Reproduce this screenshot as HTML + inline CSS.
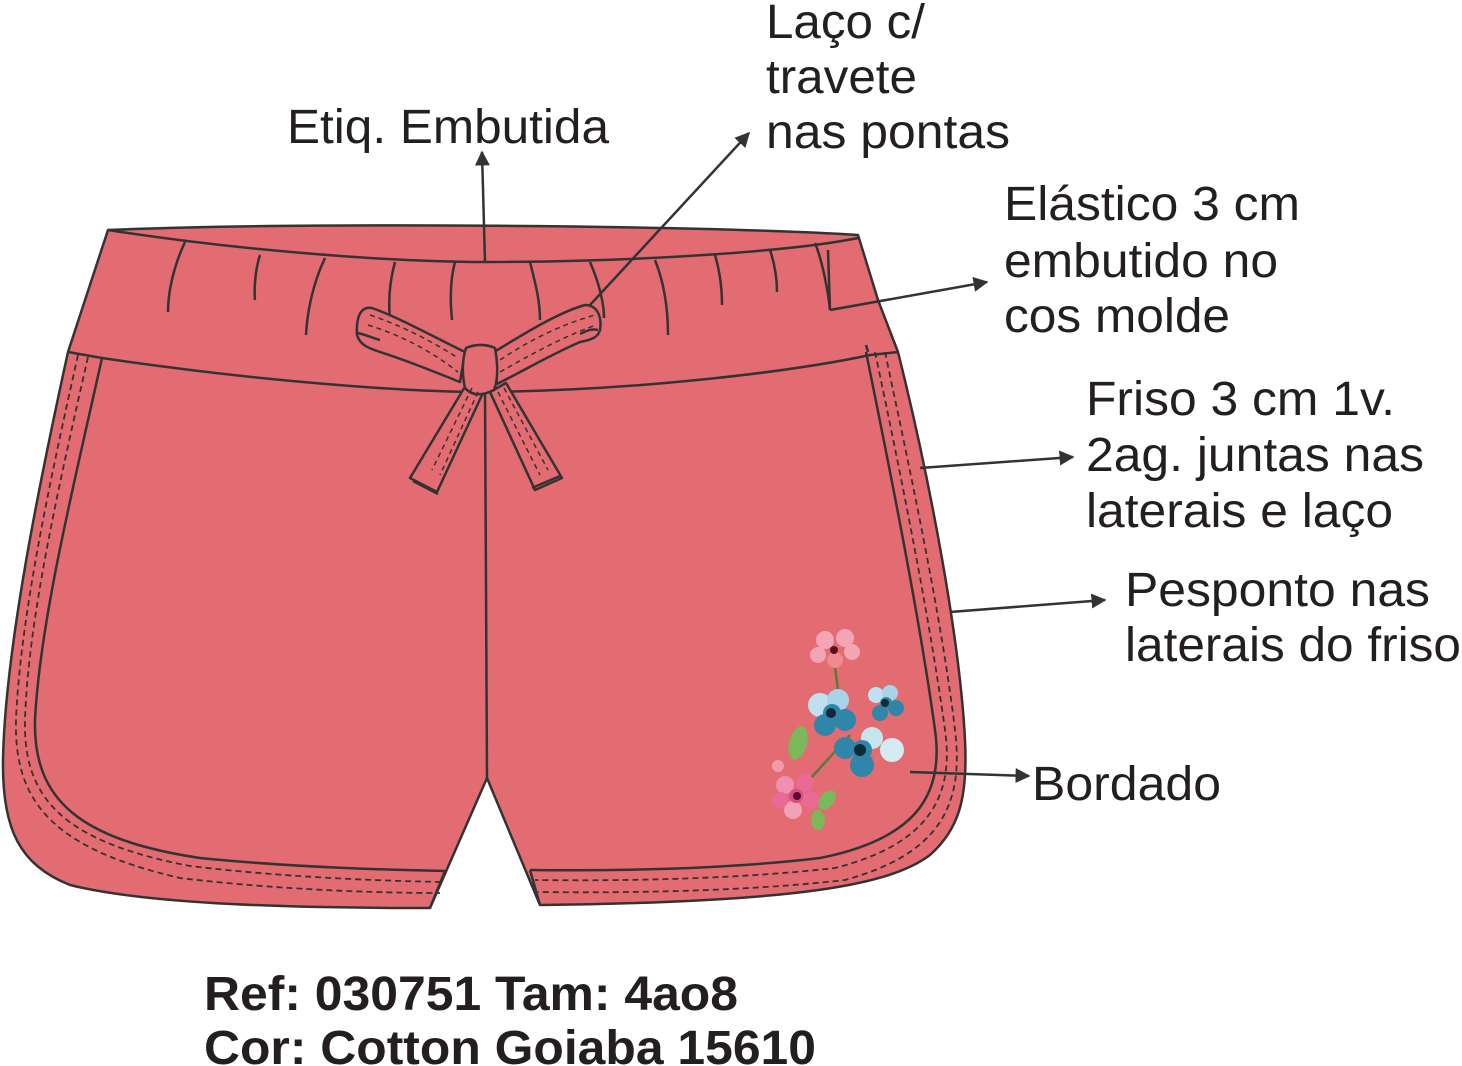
<!DOCTYPE html>
<html><head><meta charset="utf-8"><style>
html,body{margin:0;padding:0;background:#fff;}
svg{display:block}
text{font-family:"Liberation Sans",sans-serif;fill:#231f20;}
</style></head><body>
<svg width="1462" height="1066" viewBox="0 0 1462 1066" xmlns="http://www.w3.org/2000/svg">
<defs><marker id="a" viewBox="0 0 10 10" refX="9" refY="5" markerWidth="6" markerHeight="6" orient="auto"><path d="M0,0L10,5L0,10z" fill="#333"/></marker></defs>
<g stroke="#333" stroke-width="2.5" fill="none" stroke-linejoin="round">
<path fill="#e36c72" d="M108,230 C300,222 700,225 858,235 L878,300 L898,352 C930,480 960,640 965,740 C968,800 958,830 930,855 C890,885 800,902 540,905 L487,778 L430,908 C300,908 150,905 70,885 C20,865 2,830 3,760 C5,650 40,480 68,352 Z"/>
<path d="M108,230 C250,252 400,262 485,262 C650,262 800,250 858,238"/>
<path d="M68,352 L102,358 C250,380 400,392 485,392 C650,390 800,370 870,355 L898,352"/>
<path d="M485,392 L487,778"/>
<path d="M102,358 C75,480 40,620 35,720 C33,800 80,840 200,858 C300,868 400,870 445,871"/>
<path d="M866,352 C890,470 920,620 935,730 C945,800 910,840 820,858 C720,870 600,871 530,870"/>
<path d="M445,871 L430,908 M530,870 L540,905"/>
<path d="M830,310 L828,250 M866,345 L868,352"/>
<path d="M185,242 C172,270 168,295 168,312 M260,255 C255,270 254,290 255,300 M325,258 C312,285 307,315 306,335 M395,262 C390,280 388,300 390,320 M455,262 C450,280 450,300 452,320 M530,262 C535,282 540,300 540,320 M590,262 C600,285 604,305 604,318 M655,260 C665,285 668,310 668,335 M715,255 C720,272 722,290 722,305 M770,250 C775,265 777,280 777,292 M815,243 C822,260 828,290 830,310"/>
</g>
<g stroke="#333" stroke-width="1.8" fill="none" stroke-dasharray="6,4">
<path d="M78,355 C50,480 20,620 16,720 C14,800 50,848 180,878 C280,890 380,893 440,893"/>
<path d="M88,357 C60,480 28,620 25,720 C23,800 65,842 190,866 C290,878 390,881 442,882"/>
<path d="M875,352 C900,470 930,620 945,730 C955,800 925,845 835,868 C730,880 610,881 535,880"/>
<path d="M885,352 C910,470 942,620 955,730 C965,810 935,855 845,880 C740,892 620,893 538,892"/>
</g>
<g stroke="#333" stroke-width="2.5" fill="#e36c72" stroke-linejoin="round">
<path d="M465,352 C430,335 400,318 372,308 C360,306 356,318 357,335 C360,345 368,348 380,352 C405,360 430,370 460,382 Z"/>
<path d="M494,352 C530,330 560,312 585,305 C598,305 602,318 600,330 C598,338 590,340 580,342 C550,355 525,370 497,384 Z"/>
<path d="M466,385 L410,478 L437,492 L482,395 Z"/>
<path d="M490,392 L535,490 L562,478 L506,383 Z"/>
<path d="M466,348 C478,343 488,345 495,348 C498,365 498,380 494,390 C482,396 472,396 465,388 C462,375 462,360 466,348 Z"/>
<path d="M358,333 C370,336 372,338 380,340 M598,330 C590,328 585,332 580,334" fill="none"/>
<path d="M413,481 L438,494 M532,488 L560,476" fill="none"/>
</g>
<g stroke="#333" stroke-width="1.5" fill="none" stroke-dasharray="5,4">
<path d="M370,315 C400,325 430,340 458,358 M368,325 C400,335 430,350 458,372 M500,360 C530,340 560,325 595,315 M500,372 C530,355 560,338 596,325 M472,388 L432,470 M478,392 L440,475 M498,392 L540,475 M504,388 L548,470"/>
</g>
<g>
<path d="M834,660 L838,690 M850,735 L800,790" stroke="#5a7a3a" stroke-width="2.5"/>
<ellipse cx="798" cy="743" rx="9" ry="17" fill="#7bb85a" transform="rotate(15 798 743)"/>
<ellipse cx="827" cy="800" rx="7" ry="11" fill="#7bb85a" transform="rotate(40 827 800)"/>
<ellipse cx="818" cy="820" rx="7" ry="10" fill="#7bb85a"/>
<g fill="#f4a5b5"><circle cx="825" cy="640" r="9"/><circle cx="845" cy="638" r="9"/><circle cx="852" cy="652" r="8"/><circle cx="818" cy="655" r="8"/><circle cx="835" cy="660" r="8" fill="#ee8a90"/></g>
<circle cx="834" cy="650" r="4" fill="#5a1020"/>
<g fill="#2f86a8"><circle cx="820" cy="705" r="12" fill="#bfe0ee"/><circle cx="838" cy="700" r="11" fill="#a9d3e6"/><circle cx="845" cy="720" r="11"/><circle cx="825" cy="725" r="11"/><circle cx="832" cy="713" r="9"/></g>
<circle cx="831" cy="713" r="5" fill="#0d2a38"/>
<g fill="#2f86a8"><circle cx="876" cy="695" r="8" fill="#bfe0ee"/><circle cx="890" cy="693" r="8" fill="#a9d3e6"/><circle cx="896" cy="708" r="8"/><circle cx="880" cy="713" r="8"/><circle cx="886" cy="703" r="6"/></g>
<circle cx="885" cy="703" r="4" fill="#0d2a38"/>
<g fill="#2f86a8"><circle cx="872" cy="738" r="11" fill="#c8e4f0"/><circle cx="892" cy="750" r="12" fill="#d5ebf3"/><circle cx="862" cy="765" r="12"/><circle cx="845" cy="748" r="11"/><circle cx="862" cy="750" r="10"/></g>
<circle cx="860" cy="750" r="6" fill="#0d2a38"/>
<g fill="#e86a95"><circle cx="785" cy="785" r="9" fill="#f08fb0"/><circle cx="805" cy="783" r="9"/><circle cx="810" cy="800" r="9"/><circle cx="793" cy="810" r="9" fill="#f3a0bb"/><circle cx="780" cy="800" r="8"/><circle cx="796" cy="796" r="7" fill="#d94c7d"/></g>
<circle cx="797" cy="796" r="4" fill="#5a0a30"/>
<circle cx="778" cy="766" r="6" fill="#f39aa8"/>
</g>
<g stroke="#333" stroke-width="2.5" fill="none" marker-end="url(#a)">
<path d="M485,262 L482,152"/>
<path d="M590,305 L749,133"/>
<path d="M830,310 L987,282"/>
<path d="M920,468 L1073,457"/>
<path d="M950,612 L1105,600"/>
<path d="M910,772 L1029,776"/>
</g>
<g font-size="48" lengthAdjust="spacingAndGlyphs">
<text x="287" y="143" textLength="322" lengthAdjust="spacingAndGlyphs">Etiq. Embutida</text>
<text x="766" y="38" textLength="159" lengthAdjust="spacingAndGlyphs">Laço c/</text>
<text x="766" y="93" textLength="151" lengthAdjust="spacingAndGlyphs">travete</text>
<text x="766" y="148" textLength="244" lengthAdjust="spacingAndGlyphs">nas pontas</text>
<text x="1004" y="220" textLength="296" lengthAdjust="spacingAndGlyphs">Elástico 3 cm</text>
<text x="1004" y="277" textLength="274" lengthAdjust="spacingAndGlyphs">embutido no</text>
<text x="1004" y="332" textLength="226" lengthAdjust="spacingAndGlyphs">cos molde</text>
<text x="1086" y="415" textLength="309" lengthAdjust="spacingAndGlyphs">Friso 3 cm 1v.</text>
<text x="1086" y="471" textLength="338" lengthAdjust="spacingAndGlyphs">2ag. juntas nas</text>
<text x="1086" y="527" textLength="307" lengthAdjust="spacingAndGlyphs">laterais e laço</text>
<text x="1125" y="606" textLength="305" lengthAdjust="spacingAndGlyphs">Pesponto nas</text>
<text x="1125" y="661" textLength="336" lengthAdjust="spacingAndGlyphs">laterais do friso</text>
<text x="1032" y="800" textLength="189" lengthAdjust="spacingAndGlyphs">Bordado</text>
</g>
<g font-size="48" font-weight="bold">
<text x="204" y="1010" textLength="534" lengthAdjust="spacingAndGlyphs">Ref: 030751 Tam: 4ao8</text>
<text x="204" y="1064" textLength="612" lengthAdjust="spacingAndGlyphs">Cor: Cotton Goiaba 15610</text>
</g>
</svg>
</body></html>
